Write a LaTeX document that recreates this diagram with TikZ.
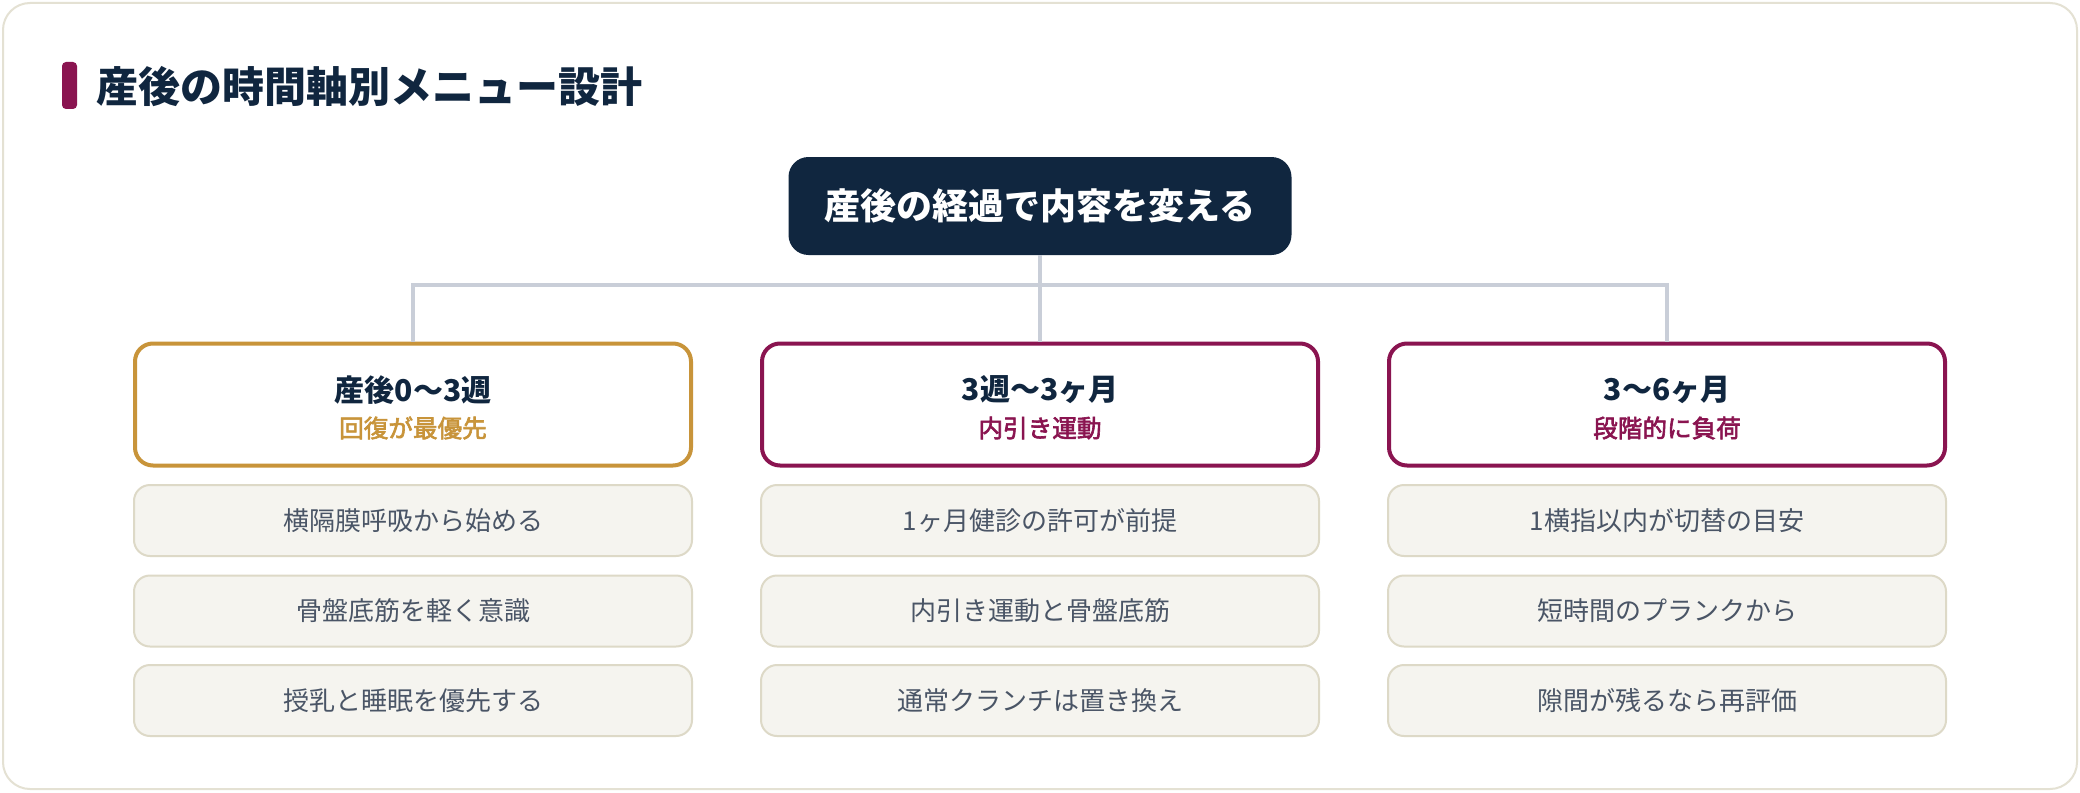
\documentclass[tikz,border=0pt]{standalone}
\usepackage{fontspec}
\setmainfont{Noto Sans CJK JP}
\newfontfamily\subfont{Noto Sans CJK JP}[FakeBold=2.5]
\definecolor{navy}{HTML}{10263F}
\definecolor{gold}{HTML}{C8943A}
\definecolor{maroon}{HTML}{8A1450}
\definecolor{connc}{HTML}{C9CED8}
\definecolor{itemfill}{HTML}{F5F4EF}
\definecolor{itemline}{HTML}{DDD9C7}
\definecolor{itemtext}{HTML}{4A5566}
\definecolor{framec}{HTML}{E4E1D3}
\tikzset{
  topbox/.style={fill=navy, rounded corners=10pt, minimum width=251.5pt, minimum height=49pt, inner sep=0pt,
    text=white, font=\fontsize{18pt}{20pt}\selectfont\bfseries},
  headbox/.style={draw=#1, line width=2pt, fill=white, rounded corners=9pt, minimum width=278pt, minimum height=61pt, inner sep=0pt},
  headtitle/.style={text=navy, font=\fontsize{15pt}{17pt}\selectfont\bfseries, inner sep=0pt},
  headsub/.style={text=#1, font=\fontsize{12.3pt}{14pt}\subfont, inner sep=0pt},
  itembox/.style={draw=itemline, line width=1pt, fill=itemfill, rounded corners=8pt, minimum width=279pt, minimum height=35.5pt, inner sep=0pt,
    text=itemtext, font=\fontsize{13pt}{15pt}\selectfont},
  conn/.style={draw=connc, line width=1.75pt},
}
\begin{document}
\begin{tikzpicture}[x=0.5pt,y=-0.5pt]
\useasboundingbox (0,0) rectangle (2080,792);
\fill[white] (0,0) rectangle (2080,792);
\draw[framec, line width=1pt, fill=white, rounded corners=13.5pt] (3,3) rectangle (2077,789);
% title
\fill[maroon, rounded corners=2pt] (62,62) rectangle (77,109);
\node[anchor=west, inner sep=0pt, text=navy, font=\fontsize{21pt}{24pt}\selectfont\bfseries] (title) at (96,87) {産後の時間軸別メニュー設計};
% top node
\node[topbox] (top) at (1040,206) {産後の経過で内容を変える};
% headers
\node[headbox=gold] (h1) at (413,404.5) {};
\node[headbox=maroon] (h2) at (1040,404.5) {};
\node[headbox=maroon] (h3) at (1667,404.5) {};
\node[headtitle] (h1t) at (413,390) {産後0〜3週};
\node[headsub=gold] (h1s) at (413,428) {回復が最優先};
\node[headtitle] (h2t) at (1040,390) {3週〜3ヶ月};
\node[headsub=maroon] (h2s) at (1040,428) {内引き運動};
\node[headtitle] (h3t) at (1667,390) {3〜6ヶ月};
\node[headsub=maroon] (h3s) at (1667,428) {段階的に負荷};
% connectors
\coordinate (bus) at (1040,285);
\draw[conn] (top.south) -- (h2.north);
\draw[conn] (h1.north) |- (bus) -| (h3.north);
% items
\node[itembox] (a1) at (413,520.5) {横隔膜呼吸から始める};
\node[itembox] (a2) at (413,611) {骨盤底筋を軽く意識};
\node[itembox] (a3) at (413,700.5) {授乳と睡眠を優先する};
\node[itembox] (b1) at (1040,520.5) {1ヶ月健診の許可が前提};
\node[itembox] (b2) at (1040,611) {内引き運動と骨盤底筋};
\node[itembox] (b3) at (1040,700.5) {通常クランチは置き換え};
\node[itembox] (c1) at (1667,520.5) {1横指以内が切替の目安};
\node[itembox] (c2) at (1667,611) {短時間のプランクから};
\node[itembox] (c3) at (1667,700.5) {隙間が残るなら再評価};
\end{tikzpicture}
\end{document}
